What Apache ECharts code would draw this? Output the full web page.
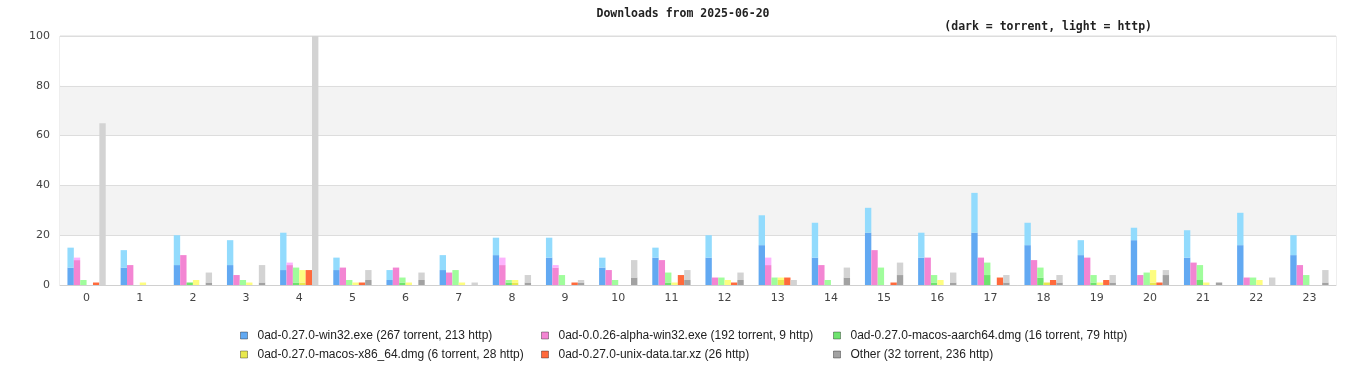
<!DOCTYPE html>
<html>
<head>
<meta charset="utf-8">
<script src="https://cdn.jsdelivr.net/npm/echarts@6/dist/echarts.min.js"></script>
<style>html,body{margin:0;padding:0;background:#fff}#c{width:1366px;height:380px}</style>
</head>
<body>
<div id="c"></div>
<script>
const hours = ['0','1','2','3','4','5','6','7','8','9','10','11','12','13','14','15','16','17','18','19','20','21','22','23'];
const yTicks = [0, 20, 40, 60, 80, 100];

const win32Torrent = [7,7,8,8,6,6,2,6,12,11,7,11,11,16,11,21,11,21,16,12,18,11,16,12];
const win32Http    = [8,7,12,10,15,5,4,6,7,8,4,4,9,12,14,10,10,16,9,6,5,11,13,8];
const alphaTorrent = [10,8,12,4,8,7,7,5,8,7,6,10,3,8,8,14,11,11,10,11,4,9,3,8];
const alphaHttp    = [1,0,0,0,1,0,0,0,3,1,0,0,0,3,0,0,0,0,0,0,0,0,0,0];
const aarchTorrent = [0,0,1,0,1,0,1,0,1,0,0,1,0,0,0,0,1,4,3,1,0,2,0,0];
const aarchHttp    = [2,0,0,2,6,2,2,6,1,4,2,4,3,3,2,7,3,5,4,3,5,6,3,4];
const x86Torrent   = [0,0,0,0,1,0,0,0,1,0,0,0,0,2,0,0,0,0,1,0,1,0,0,0];
const x86Http      = [0,1,2,1,5,1,1,1,1,0,0,1,2,1,0,0,2,0,0,1,5,1,2,0];
const unixTorrent  = [0,0,0,0,0,0,0,0,0,0,0,0,0,0,0,0,0,0,0,0,0,0,0,0];
const unixHttp     = [1,0,0,0,6,1,0,0,0,1,0,4,1,3,0,1,0,3,2,2,1,0,0,0];
const otherTorrent = [0,0,1,1,0,2,2,0,1,1,3,2,2,0,3,4,1,1,1,1,4,1,0,1];
const otherHttp    = [65,0,4,7,100,4,3,1,3,1,7,4,3,2,4,5,4,3,3,3,2,0,3,5];

const names = [
  '0ad-0.27.0-win32.exe (267 torrent, 213 http)',
  '0ad-0.0.26-alpha-win32.exe (192 torrent, 9 http)',
  '0ad-0.27.0-macos-aarch64.dmg (16 torrent, 79 http)',
  '0ad-0.27.0-macos-x86_64.dmg (6 torrent, 28 http)',
  '0ad-0.27.0-unix-data.tar.xz (26 http)',
  'Other (32 torrent, 236 http)'
];
const darkColors  = ['#62a9f2','#f385d3','#6ee36e','#e8e84e','#ff6a3c','#a2a2a2'];
const lightColors = ['#92dbfd','#fdb3fd','#a0fd9c','#fdfd80','#ff6a3c','#d3d3d3'];
const torrentData = [win32Torrent, alphaTorrent, aarchTorrent, x86Torrent, unixTorrent, otherTorrent];
const httpData    = [win32Http, alphaHttp, aarchHttp, x86Http, unixHttp, otherHttp];

const series = [];
names.forEach((n, i) => {
  series.push({
    name: n, type: 'bar', stack: 'f' + i, data: torrentData[i],
    barGap: '0%', barCategoryGap: '28%',
    itemStyle: { color: darkColors[i] }, emphasis: { disabled: true }
  });
  series.push({
    name: n, type: 'bar', stack: 'f' + i, data: httpData[i],
    barGap: '0%', barCategoryGap: '28%',
    itemStyle: { color: lightColors[i] }, emphasis: { disabled: true }
  });
});

const legendPos = [
  [240, 328], [541, 328], [833, 328],
  [240, 347], [541, 347], [833, 347]
];
const legends = names.map((n, i) => ({
  data: [n],
  left: legendPos[i][0], top: legendPos[i][1],
  padding: 0, itemWidth: 7, itemHeight: 7,
  icon: 'rect', selectedMode: false,
  itemStyle: { color: darkColors[i], borderColor: 'rgba(0,0,0,0.35)', borderWidth: 1 },
  textStyle: { fontFamily: 'Liberation Sans', fontSize: 12, color: '#222', padding: [0,0,0,5], lineHeight: 15 }
}));

const chart = echarts.init(document.getElementById('c'), null, { renderer: 'canvas' });
chart.setOption({
  animation: false,
  backgroundColor: '#fff',
  title: [
    { text: 'Downloads from 2025-06-20', left: 'center', top: 8, padding: 0,
      textStyle: { fontFamily: 'DejaVu Sans Mono', fontWeight: 'bold', fontSize: 11.5, color: '#222' } },
    { text: '(dark = torrent, light = http)', right: 214, top: 21, padding: 0,
      textStyle: { fontFamily: 'DejaVu Sans Mono', fontWeight: 'bold', fontSize: 11.5, color: '#222' } }
  ],
  legend: legends,
  grid: { left: 60, right: 30, top: 36, bottom: 95, show: true, borderColor: '#dddddd', borderWidth: 1, backgroundColor: 'transparent' },
  xAxis: {
    type: 'category', data: hours,
    axisTick: { show: false },
    axisLine: { lineStyle: { color: '#d0d0d0' } },
    axisLabel: { color: '#444', fontSize: 11, margin: 8, fontFamily: 'DejaVu Sans' }
  },
  yAxis: {
    type: 'value', min: yTicks[0], max: yTicks[yTicks.length - 1], interval: 20,
    axisLine: { show: false }, axisTick: { show: false },
    axisLabel: { color: '#444', fontSize: 11, margin: 10, fontFamily: 'DejaVu Sans' },
    splitLine: { lineStyle: { color: '#dddddd' } },
    splitArea: { show: true, areaStyle: { color: ['#ffffff', '#f3f3f3'] } }
  },
  series: series
});
</script>
</body>
</html>
